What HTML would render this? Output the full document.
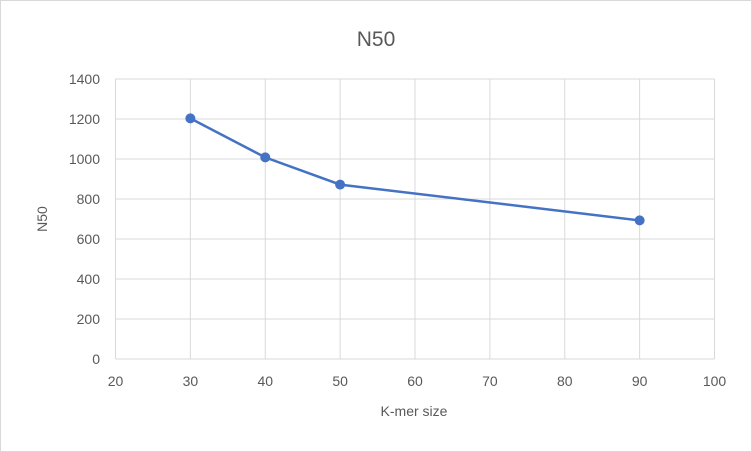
<!DOCTYPE html>
<html><head><meta charset="utf-8"><style>
body{margin:0;background:#fff;}
svg{display:block;font-family:"Liberation Sans",sans-serif;}
</style></head><body>
<svg id="chart" width="752" height="452">
<rect x="0.5" y="0.5" width="751" height="451" fill="#fff" stroke="#d9d9d9"/>
<text x="376" y="46" text-anchor="middle" font-size="21" fill="#595959">N50</text>
<g id="grid"></g><g id="series"></g>
<text x="414" y="416" text-anchor="middle" font-size="14" fill="#595959">K-mer size</text>
<text transform="translate(47,219) rotate(-90)" text-anchor="middle" font-size="14" fill="#595959">N50</text>
</svg>
<script>
const xs=[30,40,50,90];
const ys=[1203,1008,872,693];
const xTicks=[20,30,40,50,60,70,80,90,100];
const yTicks=[0,200,400,600,800,1000,1200,1400];
const X=v=>115.5+(v-20)*(714.5-115.5)/80;
const Y=v=>359-v*280/1400;
const ns='http://www.w3.org/2000/svg';
const g=document.getElementById('grid'),s=document.getElementById('series');
function mk(t,a,p){const e=document.createElementNS(ns,t);for(const k in a)e.setAttribute(k,a[k]);p.appendChild(e);return e;}
yTicks.forEach(v=>{
 const l=mk('line',{x1:115.5,x2:714.5,y1:Y(v),y2:Y(v),stroke:'#d9d9d9','stroke-width':1},g);
 
 
 const t=mk('text',{x:100,y:Y(v)+5,'text-anchor':'end','font-size':14,fill:'#595959'},g);t.textContent=v;
 
 
});
xTicks.forEach(v=>{
 const l=mk('line',{x1:X(v),x2:X(v),y1:Y(1400),y2:Y(0),stroke:'#d9d9d9','stroke-width':1},g);
 
 
 const t=mk('text',{x:X(v),y:386,'text-anchor':'middle','font-size':14,fill:'#595959'},g);t.textContent=v;
 
 
});
const pl=mk('polyline',{points:xs.map((x,i)=>X(x)+','+Y(ys[i])).join(' '),fill:'none',stroke:'#4472c4','stroke-width':2.5},s);


xs.forEach((x,i)=>{
 const c=mk('circle',{cx:X(x),cy:Y(ys[i]),r:5,fill:'#4472c4'},s);
 
 
});
</script>
</body></html>
